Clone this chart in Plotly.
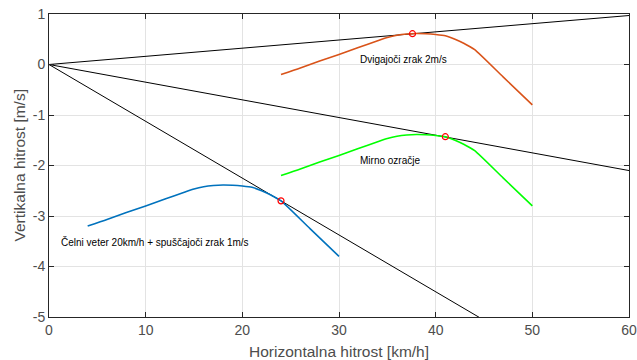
import plotly.graph_objects as go

# Glide polars
calm_x = [24, 26, 28, 30, 32, 34, 35, 36, 37, 38, 39, 40, 41, 42, 43, 44, 47, 50]
calm_y = [-2.20, -2.07, -1.93, -1.80, -1.665, -1.53, -1.465, -1.42, -1.395, -1.385, -1.39, -1.405, -1.43, -1.50, -1.59, -1.70, -2.25, -2.80]

lift_x = [24, 26, 28, 30, 32, 34, 35, 36, 37, 38, 39, 40, 41, 42, 43, 44, 47, 50]
lift_y = [-0.20, -0.07, 0.07, 0.20, 0.335, 0.47, 0.535, 0.58, 0.605, 0.615, 0.61, 0.595, 0.57, 0.50, 0.41, 0.30, -0.25, -0.80]

head_x = [4, 6, 8, 10, 12, 14, 15, 16, 17, 18, 19, 20, 21, 22, 23, 24, 27, 30]
head_y = [-3.20, -3.07, -2.93, -2.80, -2.665, -2.53, -2.465, -2.42, -2.395, -2.385, -2.39, -2.405, -2.43, -2.50, -2.59, -2.70, -3.25, -3.80]

# Tangent lines from origin (endpoints)
tan_x = [0, 60]
tan_lift_y = [0, 0.97]
tan_calm_y = [0, -2.10]
tan_head_y = [0, -6.75]

# Tangent points
opt_x = [37.6, 41.0, 24.0]
opt_y = [0.61, -1.43, -2.70]

labels = ["Dvigajoči zrak 2m/s", "Mirno ozračje", "Čelni veter 20km/h + spuščajoči zrak 1m/s"]
label_x = [32, 32, 1]
label_y = [0.10, -1.90, -3.52]

x_ticks = [0, 10, 20, 30, 40, 50, 60]
y_ticks = [1, 0, -1, -2, -3, -4, -5]

x_title = "Horizontalna hitrost [km/h]"
y_title = "Vertikalna hitrost [m/s]"

FONT = "Liberation Sans, Arial, Helvetica, sans-serif"
AX = "#262626"
TXT = "#4d4d4d"

fig = go.Figure()
for ty in [tan_lift_y, tan_calm_y, tan_head_y]:
    fig.add_trace(go.Scatter(x=tan_x, y=ty, mode="lines",
                             line=dict(color="black", width=1), showlegend=False))
fig.add_trace(go.Scatter(x=head_x, y=head_y, mode="lines",
                         line=dict(color="#0072BD", width=1.6, shape="spline", smoothing=0.6), showlegend=False))
fig.add_trace(go.Scatter(x=lift_x, y=lift_y, mode="lines",
                         line=dict(color="#D95319", width=1.6, shape="spline", smoothing=0.6), showlegend=False))
fig.add_trace(go.Scatter(x=calm_x, y=calm_y, mode="lines",
                         line=dict(color="#00FF00", width=1.6, shape="spline", smoothing=0.6), showlegend=False))
fig.add_trace(go.Scatter(x=opt_x, y=opt_y, mode="markers",
                         marker=dict(symbol="circle-open", color="red", size=6, line=dict(width=1.2)),
                         showlegend=False))

for t, x, y in zip(labels, label_x, label_y):
    fig.add_annotation(x=x, y=y, text=t, showarrow=False, xanchor="left", yanchor="middle",
                       font=dict(family=FONT, size=10, color="black"))

fig.add_annotation(x=0.5, y=0, xref="paper", yref="paper", text=x_title, showarrow=False,
                   xanchor="center", yanchor="middle", yshift=-34,
                   font=dict(family=FONT, size=15.5, color=TXT))
fig.add_annotation(x=0, y=0.5, xref="paper", yref="paper", text=y_title, showarrow=False,
                   xanchor="center", yanchor="middle", xshift=-30, textangle=-90,
                   font=dict(family=FONT, size=15.5, color=TXT))

axis_common = dict(showgrid=True, gridcolor="#e3e3e3", gridwidth=1, zeroline=False,
                   showline=True, linecolor=AX, linewidth=1, mirror="ticks",
                   ticks="inside", ticklen=5, tickcolor=AX, tickwidth=1, automargin=False,
                   ticklabeloverflow="allow",
                   tickfont=dict(family=FONT, size=14, color=TXT))

fig.update_xaxes(range=[0, 60], tickvals=x_ticks, ticktext=[str(v) for v in x_ticks], **axis_common)
fig.update_yaxes(range=[-5, 1], tickvals=y_ticks, ticktext=[str(v) for v in y_ticks], **axis_common)

fig.update_layout(width=637, height=360, margin=dict(l=49, r=8, t=14, b=43),
                  plot_bgcolor="white", paper_bgcolor="white",
                  font=dict(family=FONT))
fig.write_html("out.html", config={"displayModeBar": False},
               post_script="document.body.style.margin='0';document.body.style.overflow='hidden';")
